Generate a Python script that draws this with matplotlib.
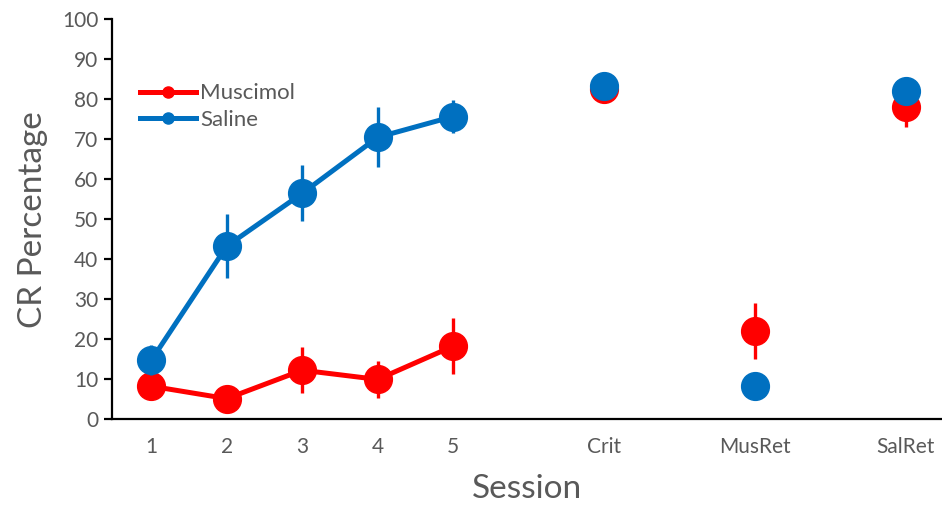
import matplotlib
matplotlib.use("Agg")
import matplotlib.pyplot as plt
from matplotlib.lines import Line2D

sessions = [1, 2, 3, 4, 5]
muscimol = [8.3, 5.2, 12.3, 10.0, 18.3]
muscimol_err = [2.0, 1.5, 5.8, 4.7, 7.0]
saline = [14.8, 43.3, 56.5, 70.5, 75.7]
saline_err = [3.8, 8.0, 7.0, 7.5, 4.2]

test_labels = ["Crit", "MusRet", "SalRet"]
test_pos = [7, 9, 11]
muscimol_test = [82.5, 22.2, 78.0]
muscimol_test_err = [1.5, 7.0, 4.8]
saline_test = [83.3, 8.3, 82.2]
saline_test_err = [1.5, 1.5, 1.5]

red = "#FF0000"
blue = "#0070C0"
gray = "#595959"

plt.rcParams['font.family'] = ['Lato', 'DejaVu Sans']

fig = plt.figure(figsize=(9.42, 5.14), dpi=100)
ax = fig.add_axes([0.119, 0.184, 0.881, 0.7785])

# session curves
ax.errorbar(sessions, muscimol, yerr=muscimol_err, color=red, lw=3.6, elinewidth=2.4,
            capsize=0, marker="o", ms=20, zorder=3)
ax.errorbar(sessions, saline, yerr=saline_err, color=blue, lw=3.6, elinewidth=2.4,
            capsize=0, marker="o", ms=20, zorder=4)

# test points, not connected
ax.errorbar(test_pos, muscimol_test, yerr=muscimol_test_err, color=red, ls="none",
            elinewidth=2.4, capsize=0, marker="o", ms=20, zorder=3)
ax.errorbar(test_pos, saline_test, yerr=saline_test_err, color=blue, ls="none",
            elinewidth=2.4, capsize=0, marker="o", ms=20, zorder=4)

ax.set_xlim(0.48, 11.48)
ax.set_ylim(0, 100)
ax.set_yticks(range(0, 101, 10))
ax.set_xticks(sessions + test_pos)
ax.set_xticklabels([str(s) for s in sessions] + test_labels)

for s in ["top", "right"]:
    ax.spines[s].set_visible(False)
for s in ["left", "bottom"]:
    ax.spines[s].set_linewidth(1.6)
    ax.spines[s].set_color("black")
ax.tick_params(axis="y", direction="out", length=6, width=1.6, colors="black",
               labelcolor=gray, labelsize=15, pad=4)
ax.tick_params(axis="x", length=0, labelcolor=gray, labelsize=15, pad=13)

ax.set_ylabel("CR Percentage", fontsize=24, color=gray, labelpad=10)
ax.set_xlabel("Session", fontsize=24, color=gray, labelpad=12)

handles = [Line2D([], [], color=red, lw=3.6, marker="o", ms=8),
           Line2D([], [], color=blue, lw=3.6, marker="o", ms=8)]
leg = ax.legend(handles, ["Muscimol", "Saline"], loc="upper left",
                bbox_to_anchor=(0.01, 0.89), frameon=False, fontsize=16,
                handlelength=2.5, handletextpad=0.2, labelspacing=0.3,
                labelcolor=gray)

fig.savefig("out.png", dpi=100)
